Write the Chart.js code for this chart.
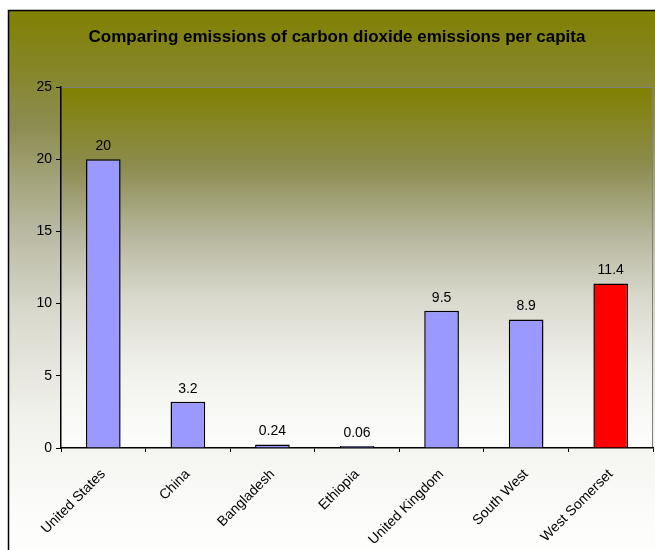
<!DOCTYPE html>
<html>
<head>
<meta charset="utf-8">
<script src="https://cdn.jsdelivr.net/npm/chart.js@4.4.0/dist/chart.umd.min.js"></script>
<style>
  html, body { margin: 0; padding: 0; background: #fff; }
  #wrap { width: 655px; height: 550px; }
</style>
</head>
<body>
<div id="wrap"><canvas id="emissions-chart" width="655" height="550"></canvas></div>
<script>
// data
const countries = ["United States", "China", "Bangladesh", "Ethiopia", "United Kingdom", "South West", "West Somerset"];
const emissions = [20, 3.2, 0.24, 0.06, 9.5, 8.9, 11.4];
const barColors = ["#9999FF", "#9999FF", "#9999FF", "#9999FF", "#9999FF", "#9999FF", "#FF0000"];
const chartTitle = "Comparing emissions of carbon dioxide emissions per capita";

const FONT = "'Liberation Sans', Arial, sans-serif";

// olive -> grey -> white, like the Excel fill
const fadeStops = [
  [0, "#808000"],
  [0.22, "#8C8C50"],
  [0.42, "#B8B8A0"],
  [0.58, "#D8D8CC"],
  [0.78, "#F1F1EC"],
  [1, "#FDFDFC"],
];

const addStops = (g) => {
  fadeStops.forEach(([p, c]) => g.addColorStop(p, c));
  return g;
};

const backgroundPlugin = {
  id: "bgGradient",
  beforeDraw: (chart) => {
    const { ctx, chartArea: a, width, height } = chart;
    ctx.save();
    ctx.fillStyle = "#fff";
    ctx.fillRect(0, 0, width, height);

    ctx.fillStyle = addStops(ctx.createLinearGradient(0, 10, 0, 530));
    ctx.fillRect(8, 10, width, height);
    ctx.strokeStyle = "#000";
    ctx.lineWidth = 1.5;
    ctx.strokeRect(8.5, 10.5, width + 10, height + 10);

    ctx.fillStyle = addStops(ctx.createLinearGradient(0, a.top, 0, a.bottom));
    ctx.fillRect(a.left, a.top, a.right - a.left, a.bottom - a.top);

    // grey frame on top / right of plot area
    ctx.strokeStyle = "#808080";
    ctx.lineWidth = 1;
    ctx.beginPath();
    ctx.moveTo(a.left, a.top + 0.5);
    ctx.lineTo(a.right - 0.5, a.top + 0.5);
    ctx.lineTo(a.right - 0.5, a.bottom);
    ctx.stroke();

    // title
    ctx.fillStyle = "#000";
    ctx.font = "bold 17px " + FONT;
    ctx.textAlign = "center";
    ctx.textBaseline = "middle";
    ctx.fillText(chartTitle, 337, 37);
    ctx.restore();
  },
};

// value labels above bars
const valueLabelPlugin = {
  id: "valueLabels",
  afterDatasetsDraw: (chart) => {
    const { ctx } = chart;
    const meta = chart.getDatasetMeta(0);
    ctx.save();
    ctx.fillStyle = "#000";
    ctx.font = "14px " + FONT;
    ctx.textAlign = "center";
    ctx.textBaseline = "bottom";
    meta.data.forEach((bar, i) => {
      ctx.fillText(String(emissions[i]), bar.x, bar.y - 6);
    });
    ctx.restore();
  },
};

new Chart(document.getElementById("emissions-chart").getContext("2d"), {
  type: "bar",
  data: {
    labels: countries,
    datasets: [
      {
        data: emissions,
        backgroundColor: barColors,
        borderColor: "#000",
        borderWidth: 1.5,
        categoryPercentage: 1,
        barPercentage: 0.41,
        minBarLength: 2,
      },
    ],
  },
  options: {
    responsive: false,
    animation: false,
    devicePixelRatio: 1,
    layout: {
      padding: { left: 8, top: 87, right: 2, bottom: 0 },
    },
    plugins: {
      legend: { display: false },
      title: { display: false },
      tooltip: { enabled: false },
    },
    scales: {
      y: {
        min: 0,
        max: 25,
        ticks: {
          stepSize: 5,
          color: "#000",
          font: { family: FONT, size: 14 },
          padding: 4,
        },
        grid: {
          drawOnChartArea: false,
          color: "#000",
          tickLength: 5,
        },
        border: { color: "#000", width: 1.5 },
        afterFit: (scale) => {
          scale.width = 53;
        },
      },
      x: {
        ticks: {
          color: "#000",
          font: { family: FONT, size: 14 },
          maxRotation: 45,
          minRotation: 45,
          padding: 14,
        },
        grid: {
          offset: true,
          drawOnChartArea: false,
          color: "#000",
          tickLength: 4,
        },
        border: { color: "#000", width: 1.5 },
        afterFit: (scale) => {
          scale.height = 102;
        },
      },
    },
  },
  plugins: [backgroundPlugin, valueLabelPlugin],
});
</script>
</body>
</html>
